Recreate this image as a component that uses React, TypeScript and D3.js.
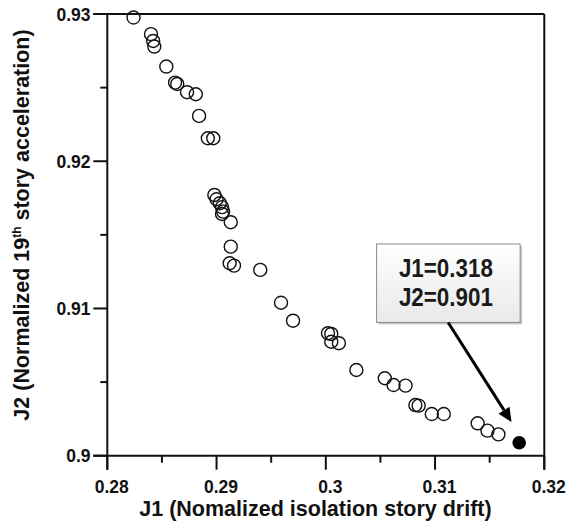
import React from "react";
import * as d3 from "d3";

// Pareto front solutions (J1 = normalized isolation story drift, J2 = normalized 19th story acceleration)
const J1 = [
  0.2824, 0.284, 0.2842, 0.2843, 0.2854, 0.2862, 0.2864, 0.2873, 0.2881, 0.2884,
  0.2892, 0.2897, 0.2898, 0.29, 0.2903, 0.2905, 0.2906, 0.2905, 0.2913, 0.2913,
  0.2912, 0.2916, 0.294, 0.2959, 0.297, 0.3002, 0.3005, 0.3005, 0.3012, 0.3028,
  0.3054, 0.3062, 0.3073, 0.3082, 0.3085, 0.3097, 0.3108, 0.3139, 0.3148, 0.3158,
];
const J2 = [
  0.92976, 0.92863, 0.92817, 0.92779, 0.92643, 0.92534, 0.92525, 0.92469, 0.92455, 0.92308,
  0.92156, 0.92156, 0.91771, 0.91742, 0.91715, 0.91688, 0.91658, 0.91642, 0.91586, 0.9142,
  0.91307, 0.91291, 0.91262, 0.91039, 0.90917, 0.90832, 0.90827, 0.90774, 0.90764, 0.90582,
  0.90526, 0.9048, 0.90476, 0.90344, 0.9034, 0.90283, 0.90283, 0.9022, 0.9017, 0.90145,
];
// selected optimum
const OPT_J1 = 0.3177;
const OPT_J2 = 0.90088;
const OPT_LABELS = ["J1=0.318", "J2=0.901"];

const X_TICKS = [0.28, 0.29, 0.3, 0.31, 0.32];
const X_TICK_LABELS = ["0.28", "0.29", "0.3", "0.31", "0.32"];
const X_MINOR = [0.285, 0.295, 0.305, 0.315];
const Y_TICKS = [0.9, 0.91, 0.92, 0.93];
const Y_TICK_LABELS = ["0.9", "0.91", "0.92", "0.93"];
const Y_MINOR = [0.905, 0.915, 0.925];

const X_TITLE = "J1 (Nomalized isolation story drift)";

// annotation anchors in data units
const BOX_J1 = [0.30465, 0.31779];
const BOX_J2 = [0.90905, 0.91438];
const ARROW_FROM = [0.3112, 0.90905];
const ARROW_TO = [0.317, 0.90229];

const W = 569;
const H = 524;
const L = 107.3;
const R = 544.3;
const T = 14;
const B = 455.7;

export default function App() {
  const x = d3.scaleLinear().domain([0.28, 0.32]).range([L, R]);
  const y = d3.scaleLinear().domain([0.9, 0.93]).range([B, T]);
  const font = "'Liberation Sans', Arial, sans-serif";
  const ink = "#111";

  const bx0 = x(BOX_J1[0]);
  const bx1 = x(BOX_J1[1]);
  const by0 = y(BOX_J2[1]);
  const by1 = y(BOX_J2[0]);
  const ax0 = x(ARROW_FROM[0]);
  const ay0 = y(ARROW_FROM[1]);
  const ax1 = x(ARROW_TO[0]);
  const ay1 = y(ARROW_TO[1]);
  const ang = Math.atan2(ay1 - ay0, ax1 - ax0);
  const headLen = 14;
  const headW = 6.5;
  const hx = ax1 - headLen * Math.cos(ang);
  const hy = ay1 - headLen * Math.sin(ang);
  const px = -Math.sin(ang);
  const py = Math.cos(ang);
  const head = `M${ax1},${ay1}L${hx + px * headW},${hy + py * headW}L${hx - px * headW},${hy - py * headW}Z`;
  const bcx = (bx0 + bx1) / 2;

  return (
    <svg
      width={W}
      height={H}
      style={{ position: "absolute", left: 0, top: 0, background: "#fff" }}
      fontFamily={font}
    >
      <defs>
        <linearGradient id="boxfill" x1="0" y1="0" x2="0" y2="1">
          <stop offset="0" stopColor="#ffffff" />
          <stop offset="1" stopColor="#e9e9e9" />
        </linearGradient>
      </defs>
      <rect width={W} height={H} fill="#fff" />

      {/* frame */}
      <line x1={x(0.28) - 14} x2={R} y1={T} y2={T} stroke={ink} strokeWidth={2} />
      <line x1={R} x2={R} y1={T} y2={B + 14} stroke={ink} strokeWidth={2} />
      <line x1={L} x2={L} y1={T} y2={B + 14} stroke={ink} strokeWidth={2} />
      <line x1={L - 14} x2={R} y1={B} y2={B} stroke={ink} strokeWidth={2} />

      {/* x ticks */}
      {X_TICKS.map((t, i) => (
        <g key={"xt" + i}>
          <line x1={x(t)} x2={x(t)} y1={B} y2={B + 14} stroke={ink} strokeWidth={2} />
          <text x={x(t) + 4.5} y={493} textAnchor="middle" fontSize={17.5} fontWeight="bold" fill={ink}>
            {X_TICK_LABELS[i]}
          </text>
        </g>
      ))}
      {X_MINOR.map((t, i) => (
        <line key={"xm" + i} x1={x(t)} x2={x(t)} y1={B} y2={B + 7} stroke={ink} strokeWidth={2} />
      ))}

      {/* y ticks */}
      {Y_TICKS.map((t, i) => (
        <g key={"yt" + i}>
          <line x1={L - 14} x2={L} y1={y(t)} y2={y(t)} stroke={ink} strokeWidth={2} />
          <text x={90.5} y={y(t) + 6.5} textAnchor="end" fontSize={17.5} fontWeight="bold" fill={ink}>
            {Y_TICK_LABELS[i]}
          </text>
        </g>
      ))}
      {Y_MINOR.map((t, i) => (
        <line key={"ym" + i} x1={L - 7} x2={L} y1={y(t)} y2={y(t)} stroke={ink} strokeWidth={2} />
      ))}

      {/* axis titles */}
      <text x={(138 + 493) / 2} y={516} textAnchor="middle" fontSize={21.5} fontWeight="bold" fill={ink}>
        {X_TITLE}
      </text>
      <text
        transform="translate(28.5,225) rotate(-90)"
        textAnchor="middle"
        fontSize={21.5}
        fontWeight="bold"
        fill={ink}
      >
        J2 (Normalized 19
        <tspan fontSize={12} dy={-8}>th</tspan>
        <tspan dy={8}> story acceleration)</tspan>
      </text>

      {/* points */}
      {J1.map((v, i) => (
        <circle key={"p" + i} cx={x(v)} cy={y(J2[i])} r={6.5} fill="none" stroke={ink} strokeWidth={1.4} />
      ))}
      <circle cx={x(OPT_J1)} cy={y(OPT_J2)} r={6.8} fill="#000" />

      {/* annotation */}
      <rect x={bx0 + 2} y={by0 + 2} width={bx1 - bx0} height={by1 - by0} fill="#c8c8c8" />
      <rect x={bx0} y={by0} width={bx1 - bx0} height={by1 - by0} fill="url(#boxfill)" stroke="#8a8a8a" strokeWidth={1} />
      {OPT_LABELS.map((s, i) => (
        <text
          key={"lab" + i}
          x={bcx - 2.5}
          y={by0 + 33.5 + i * 28.5}
          textAnchor="middle"
          fontSize={25}
          fontWeight="bold"
          fill="#1a1a1a"
          textLength={94}
          lengthAdjust="spacingAndGlyphs"
        >
          {s}
        </text>
      ))}
      <line x1={ax0} y1={ay0} x2={hx} y2={hy} stroke="#000" strokeWidth={3} />
      <path d={head} fill="#000" />
    </svg>
  );
}
